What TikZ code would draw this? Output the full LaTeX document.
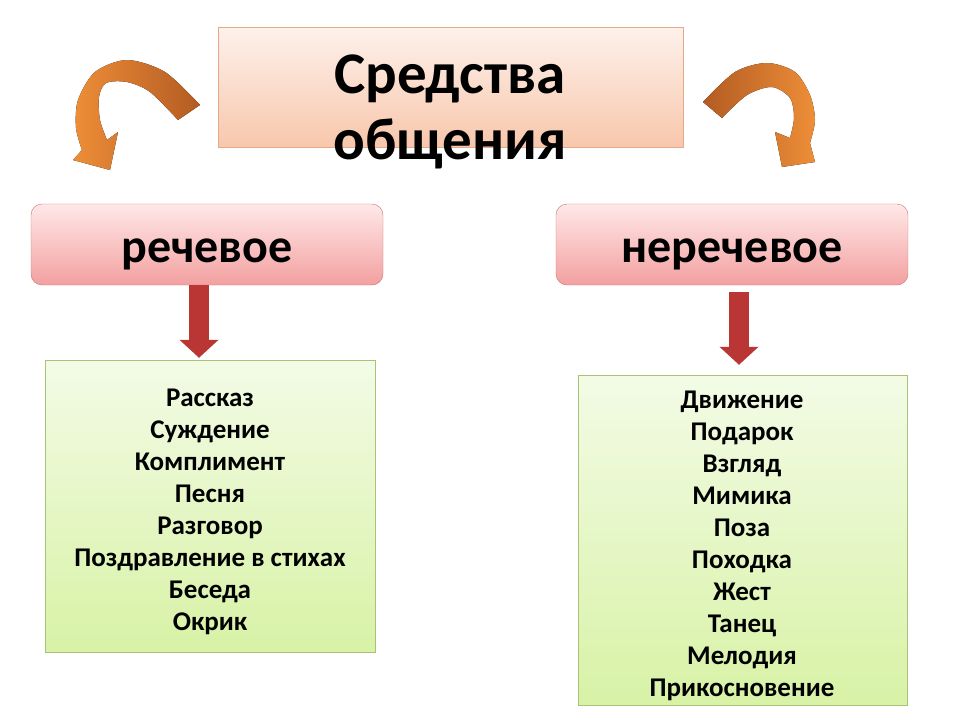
\documentclass[tikz,border=0pt]{standalone}
\usepackage{fontspec}
\setmainfont{Carlito}
\usepackage{xcolor}
\usepackage{tikz}
\usetikzlibrary{positioning,arrows.meta}
\definecolor{sredink}{HTML}{000000}
\definecolor{sredpeachtop}{HTML}{FDF1EB}
\definecolor{sredpeachbot}{HTML}{F8C7AC}
\definecolor{sredpeachline}{HTML}{E6A985}
\definecolor{sredpinktop}{HTML}{FFE8E8}
\definecolor{sredpinkbot}{HTML}{F3A0A0}
\definecolor{sredpinkline}{HTML}{C77474}
\definecolor{sredgreentop}{HTML}{F3FBE6}
\definecolor{sredgreenbot}{HTML}{D8F2A6}
\definecolor{sredgreenline}{HTML}{A9C27A}
\definecolor{sredred}{HTML}{BA3634}
\definecolor{sredbrown}{HTML}{B35B22}
\definecolor{sredorange}{HTML}{EE8E38}

\begin{document}
\begin{tikzpicture}[
  x=1pt,y=-1pt,
  titlebox/.style={draw=sredpeachline,top color=sredpeachtop,bottom color=sredpeachbot,
                   minimum width=465pt,minimum height=120pt,inner sep=0pt},
  kindbox/.style={draw=sredpinkline,top color=sredpinktop,bottom color=sredpinkbot,
                  rounded corners=11pt,minimum width=352pt,minimum height=81pt,inner sep=0pt,
                  text height=35pt,text depth=0pt,
                  font=\fontsize{48}{54}\selectfont\bfseries},
  listbox/.style={draw=sredgreenline,top color=sredgreentop,bottom color=sredgreenbot,
                  minimum width=330pt,inner sep=0pt},
  listtext/.style={align=center,inner sep=0pt,font=\fontsize{27}{32}\selectfont\bfseries},
  arr/.style={sredred,line width=20pt,-{Triangle[length=18pt,width=38pt]}}
]
\useasboundingbox (0,0) rectangle (960,720);

\node[titlebox] (top) at (450.5,87) {};
\node[align=center,font=\fontsize{59}{66}\selectfont\bfseries] (title) at (450,112)
  {Средства\\ общения};

\node[kindbox] (rech) at (207,244.5) {речевое};
\node[kindbox] (nerech) at (732,244.5) {неречевое};

\node[listbox,minimum height=292pt] (rechbox) at (210,506) {};
\node[listtext] (rechlist) at (210,512)
  {Рассказ\\ Суждение\\ Комплимент\\ Песня\\ Разговор\\
   Поздравление в стихах\\ Беседа\\ Окрик};
\node[listbox,minimum height=330pt,minimum width=329pt] (nerechbox) at (742.5,540) {};
\node[listtext] (nerechlist) at (742,546)
  {Движение\\ Подарок\\ Взгляд\\ Мимика\\ Поза\\ Походка\\ Жест\\ Танец\\
   Мелодия\\ Прикосновение};

\draw[arr,shorten >=2pt] ([xshift=-8pt]rech.south) -- ([xshift=-11pt]rechbox.north);
\draw[arr,shorten <=7pt,shorten >=10pt] ([xshift=7pt]nerech.south) -- ([xshift=-3.5pt]nerechbox.north);

% curved arrows beside the title
\fill[left color=sredorange,right color=sredbrown]
  plot[smooth] coordinates {(200,105) (165,72) (127,60) (95,72) (78,100) (76,128) (82,150)}
  -- (73,160) -- (110,170) -- (118,132)
  -- plot[smooth] coordinates {(107,140) (100,120) (99,97) (106,83) (127,82) (150,92) (178,120)}
  -- cycle;
\fill[left color=sredbrown,right color=sredorange]
  plot[smooth] coordinates {(703,102) (735,72) (767,63) (795,72) (810,95) (815,120) (810,143)}
  -- (815,162) -- (782,167) -- (775,132)
  -- plot[smooth] coordinates {(790,138) (794,118) (790,98) (772,87) (747,95) (722,118)}
  -- cycle;
\end{tikzpicture}
\end{document}
